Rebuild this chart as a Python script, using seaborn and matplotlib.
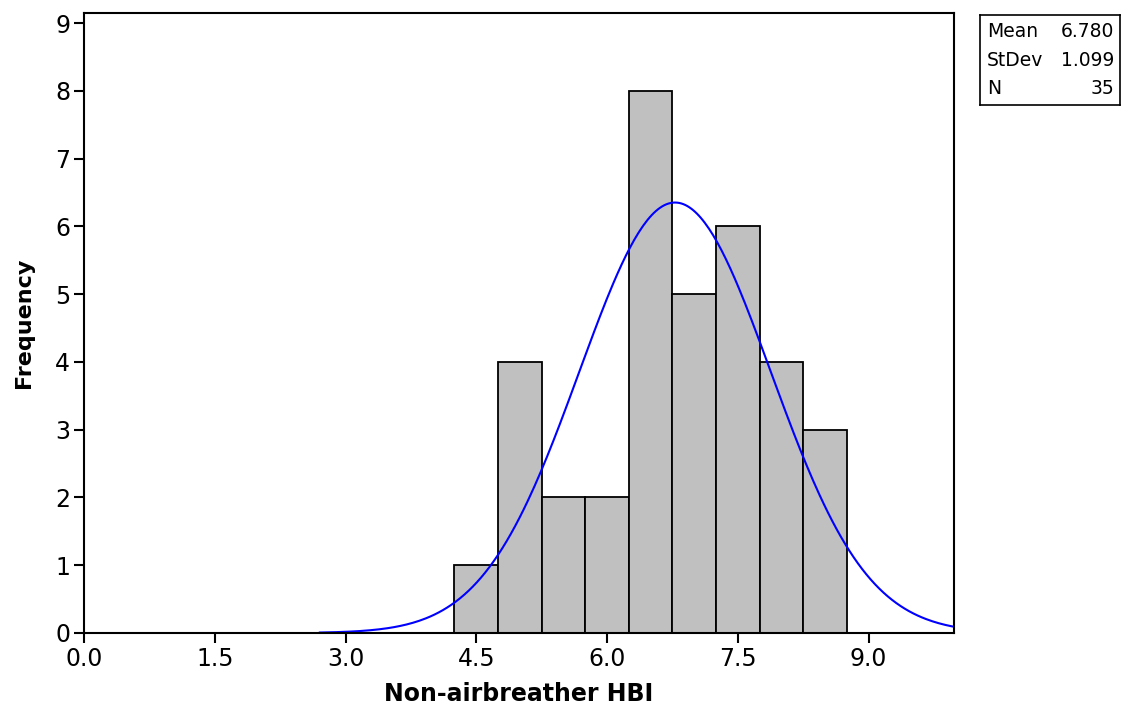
import numpy as np
import pandas as pd
import matplotlib
matplotlib.use("Agg")
import matplotlib.pyplot as plt
import seaborn as sns

# histogram data (bin midpoints and counts)
bin_mids = [4.5, 5.0, 5.5, 6.0, 6.5, 7.0, 7.5, 8.0, 8.5]
counts = [1, 4, 2, 2, 8, 5, 6, 4, 3]
bin_width = 0.5
mean_val = 6.780
sd_val = 1.099
n_val = 35
xticks = [0.0, 1.5, 3.0, 4.5, 6.0, 7.5, 9.0]
yticks = list(range(10))

sns.set_theme(style="white")
plt.rcParams['font.family'] = ['DejaVu Sans']
plt.rcParams['text.color'] = 'black'
plt.rcParams['axes.labelcolor'] = 'black'
plt.rcParams['xtick.color'] = 'black'
plt.rcParams['ytick.color'] = 'black'

df = pd.DataFrame({"HBI": bin_mids, "count": counts})
edges = [m - bin_width / 2 for m in bin_mids] + [bin_mids[-1] + bin_width / 2]

fig = plt.figure(figsize=(11.29, 7.10), dpi=100)
ax = fig.add_axes([0.0744, 0.1085, 0.7706, 0.8732])

sns.histplot(data=df, x="HBI", weights="count", bins=edges, ax=ax,
             color="#C0C0C0", edgecolor="black", linewidth=1.3, alpha=1)

# fitted normal curve
xs = np.linspace(2.7, 10.0, 300)
ys = n_val * bin_width * np.exp(-0.5 * ((xs - mean_val) / sd_val) ** 2) / (sd_val * np.sqrt(2 * np.pi))
sns.lineplot(x=xs, y=ys, ax=ax, color="#0000FF", linewidth=1.5)

ax.set_xlim(0, 9.98)
ax.set_ylim(0, 9.15)
ax.set_xticks(xticks)
ax.set_xticklabels([f"{t:.1f}" for t in xticks])
ax.set_yticks(yticks)
ax.tick_params(axis="both", direction="out", length=7, width=1.5, labelsize=17,
               bottom=True, left=True, pad=3)
for s in ax.spines.values():
    s.set_color("black")
    s.set_linewidth(1.5)
ax.set_xlabel("Non-airbreather HBI", fontsize=17, fontweight="bold", labelpad=8)
ax.set_ylabel("Frequency", fontsize=16, fontweight="bold", labelpad=15)

# stats box
bx = fig.add_axes([980 / 1129, 1 - 105 / 710, 140 / 1129, 90 / 710])
bx.set_xticks([])
bx.set_yticks([])
for s in bx.spines.values():
    s.set_color("black")
    s.set_linewidth(1.2)
rows = [("Mean", f"{mean_val:.3f}"), ("StDev", f"{sd_val:.3f}"), ("N", f"{n_val}")]
for i, (k, v) in enumerate(rows):
    yy = 0.82 - i * 0.32
    bx.text(0.05, yy, k, fontsize=13.5, va="center", ha="left", transform=bx.transAxes)
    bx.text(0.96, yy, v, fontsize=13.5, va="center", ha="right", transform=bx.transAxes)

fig.savefig("out.png", dpi=100)
